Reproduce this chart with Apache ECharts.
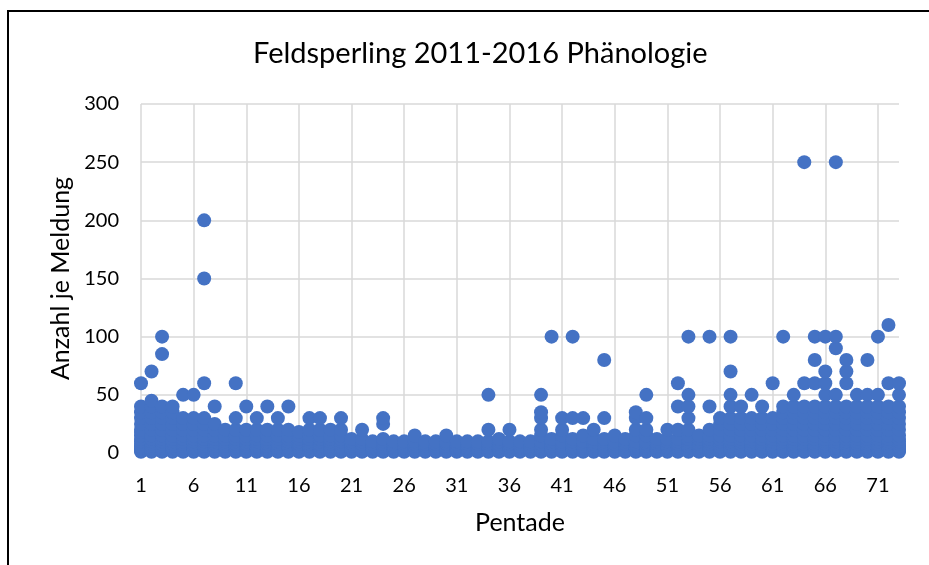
<!DOCTYPE html>
<html>
<head>
<meta charset="utf-8">
<script src="https://cdn.jsdelivr.net/npm/echarts@6/dist/echarts.min.js"></script>
<style>
  html, body { margin: 0; padding: 0; background: #fff; }
  #chart { width: 929px; height: 565px; }
</style>
</head>
<body>
<div id="chart"></div>
<script>
// Pentaden (categories of x axis)
const pentaden = [
  1, 2, 3, 4, 5, 6, 7, 8, 9, 10, 11, 12, 13, 14, 15, 16, 17, 18, 19, 20,
  21, 22, 23, 24, 25, 26, 27, 28, 29, 30, 31, 32, 33, 34, 35, 36, 37, 38, 39, 40,
  41, 42, 43, 44, 45, 46, 47, 48, 49, 50, 51, 52, 53, 54, 55, 56, 57, 58, 59, 60,
  61, 62, 63, 64, 65, 66, 67, 68, 69, 70, 71, 72, 73
];

// Anzahl je Meldung, grouped per Pentade (index 0 = Pentade 1)
const anzahlJePentade = [
  [1,2,3,4,5,6,8,10,12,15,18,20,25,30,35,40,60],          // 1
  [1,2,3,4,5,6,8,10,12,15,20,25,30,35,40,45,70],          // 2
  [1,2,3,4,5,6,8,10,12,15,20,25,30,35,40,85,100],         // 3
  [1,2,3,4,5,6,8,10,12,15,20,25,30,35,40],                // 4
  [1,2,3,4,5,6,8,10,12,15,20,25,30,50],                   // 5
  [1,2,3,4,5,6,8,10,12,15,20,25,30,50],                   // 6
  [1,2,3,4,5,6,8,10,12,15,20,25,30,60,150,200],           // 7
  [1,2,3,4,5,6,8,10,12,15,20,25,40],                      // 8
  [1,2,3,4,5,6,8,10,12,15,20],                            // 9
  [1,2,3,4,5,6,8,10,12,15,20,30,60],                      // 10
  [1,2,3,4,5,6,8,10,12,15,20,40],                         // 11
  [1,2,3,4,5,6,8,10,12,15,20,30],                         // 12
  [1,2,3,4,5,6,8,10,12,15,20,40],                         // 13
  [1,2,3,4,5,6,8,10,12,15,20,30],                         // 14
  [1,2,3,4,5,6,8,10,12,15,20,40],                         // 15
  [1,2,3,4,5,6,8,10,12,15,18],                            // 16
  [1,2,3,4,5,6,8,10,12,15,20,30],                         // 17
  [1,2,3,4,5,6,8,10,12,15,20,30],                         // 18
  [1,2,3,4,5,6,8,10,12,15,20],                            // 19
  [1,2,3,4,5,6,8,10,12,15,20,30],                         // 20
  [1,2,3,4,5,6,8,10,12],                                  // 21
  [1,2,3,4,5,6,8,10,12,20],                               // 22
  [1,2,3,4,5,6,8,10],                                     // 23
  [1,2,3,4,5,6,8,10,12,25,30],                            // 24
  [1,2,3,4,5,6,8,10],                                     // 25
  [1,2,3,4,5,6,8,10],                                     // 26
  [1,2,3,4,5,6,8,10,15],                                  // 27
  [1,2,3,4,5,6,8,10],                                     // 28
  [1,2,3,4,5,6,8,10],                                     // 29
  [1,2,3,4,5,6,8,10,15],                                  // 30
  [1,2,3,4,5,6,8,10],                                     // 31
  [1,2,3,4,5,6,8,10],                                     // 32
  [1,2,3,4,5,6,8,10],                                     // 33
  [1,2,3,4,5,6,8,10,20,50],                               // 34
  [1,2,3,4,5,6,8,10,12],                                  // 35
  [1,2,3,4,5,6,8,10,20],                                  // 36
  [1,2,3,4,5,6,8,10],                                     // 37
  [1,2,3,4,5,6,8,10],                                     // 38
  [1,2,3,4,5,6,8,10,15,20,30,35,50],                      // 39
  [1,2,3,4,5,6,8,10,12,100],                              // 40
  [1,2,3,4,5,6,8,10,15,20,30],                            // 41
  [1,2,3,4,5,6,8,10,12,30,100],                           // 42
  [1,2,3,4,5,6,8,10,15,30],                               // 43
  [1,2,3,4,5,6,8,10,12,20],                               // 44
  [1,2,3,4,5,6,8,10,12,30,80],                            // 45
  [1,2,3,4,5,6,8,10,15],                                  // 46
  [1,2,3,4,5,6,8,10,12],                                  // 47
  [1,2,3,4,5,6,8,10,15,20,30,35],                         // 48
  [1,2,3,4,5,6,8,10,15,20,30,50],                         // 49
  [1,2,3,4,5,6,8,10,12],                                  // 50
  [1,2,3,4,5,6,8,10,12,20],                               // 51
  [1,2,3,4,5,6,8,10,12,20,40,60],                         // 52
  [1,2,3,4,5,6,8,10,12,15,20,30,40,50,100],               // 53
  [1,2,3,4,5,6,8,10,12,15],                               // 54
  [1,2,3,4,5,6,8,10,12,15,20,40,100],                     // 55
  [1,2,3,4,5,6,8,10,12,15,20,25,30],                      // 56
  [1,2,3,4,5,6,8,10,12,15,20,25,30,40,50,70,100],         // 57
  [1,2,3,4,5,6,8,10,12,15,20,25,30,40],                   // 58
  [1,2,3,4,5,6,8,10,12,15,20,25,30,50],                   // 59
  [1,2,3,4,5,6,8,10,12,15,20,25,30,40],                   // 60
  [1,2,3,4,5,6,8,10,12,15,20,25,30,60],                   // 61
  [1,2,3,4,5,6,8,10,12,15,20,25,30,35,40,100],            // 62
  [1,2,3,4,5,6,8,10,12,15,20,25,30,35,40,50],             // 63
  [1,2,3,4,5,6,8,10,12,15,20,25,30,35,40,60,250],         // 64
  [1,2,3,4,5,6,8,10,12,15,20,25,30,35,40,60,80,100],      // 65
  [1,2,3,4,5,6,8,10,12,15,20,25,30,35,40,50,60,70,100],   // 66
  [1,2,3,4,5,6,8,10,12,15,20,25,30,35,40,50,90,100,250],  // 67
  [1,2,3,4,5,6,8,10,12,15,20,25,30,35,40,60,70,80],       // 68
  [1,2,3,4,5,6,8,10,12,15,20,25,30,35,40,50],             // 69
  [1,2,3,4,5,6,8,10,12,15,20,25,30,35,40,50,80],          // 70
  [1,2,3,4,5,6,8,10,12,15,20,25,30,35,40,50,100],         // 71
  [1,2,3,4,5,6,8,10,12,15,20,25,30,35,40,60,110],         // 72
  [1,2,3,4,5,6,8,10,12,15,20,25,30,35,40,50,60]           // 73
];

const yTicks = { min: 0, max: 300, interval: 50 };

const points = [];
anzahlJePentade.forEach(function (vals, i) {
  vals.forEach(function (v) { points.push([i, v]); });
});

const FONT = 'Lato';
const TXT = '#000000';

const chart = echarts.init(document.getElementById('chart'), null, { renderer: 'canvas' });
chart.setOption({
  animation: false,
  backgroundColor: '#ffffff',
  title: {
    text: 'Feldsperling 2011-2016 Phänologie',
    left: 248,
    top: 34,
    textStyle: { fontFamily: FONT, fontSize: 29, fontWeight: 'normal', color: TXT }
  },
  graphic: [{
    type: 'rect',
    shape: { x: 8, y: 11, width: 1000, height: 1000 },
    style: { fill: 'none', stroke: '#000000', lineWidth: 2 },
    silent: true
  }],
  grid: { left: 141, right: 30, top: 104, bottom: 112 },
  xAxis: {
    type: 'category',
    data: pentaden.map(String),
    boundaryGap: false,
    name: 'Pentade',
    nameLocation: 'middle',
    nameGap: 57,
    nameTextStyle: { fontFamily: FONT, fontSize: 25, color: TXT },
    axisLine: { show: false },
    axisTick: { show: false },
    axisLabel: { interval: 4, margin: 23, fontFamily: FONT, fontSize: 20, color: TXT },
    splitLine: { show: true, interval: 4, lineStyle: { color: '#d9d9d9', width: 1.5 } }
  },
  yAxis: {
    type: 'value',
    min: yTicks.min,
    max: yTicks.max,
    interval: yTicks.interval,
    name: 'Anzahl je Meldung',
    nameLocation: 'middle',
    nameGap: 66,
    nameTextStyle: { fontFamily: FONT, fontSize: 25, color: TXT },
    axisLine: { show: false },
    axisTick: { show: false },
    axisLabel: { margin: 22, fontFamily: FONT, fontSize: 20, color: TXT },
    splitLine: { show: true, lineStyle: { color: '#d9d9d9', width: 1.5 } }
  },
  series: [{
    type: 'scatter',
    data: points,
    symbol: 'circle',
    symbolSize: 14,
    itemStyle: { color: '#4472C4', opacity: 1 },
    clip: false
  }]
});
</script>
</body>
</html>
